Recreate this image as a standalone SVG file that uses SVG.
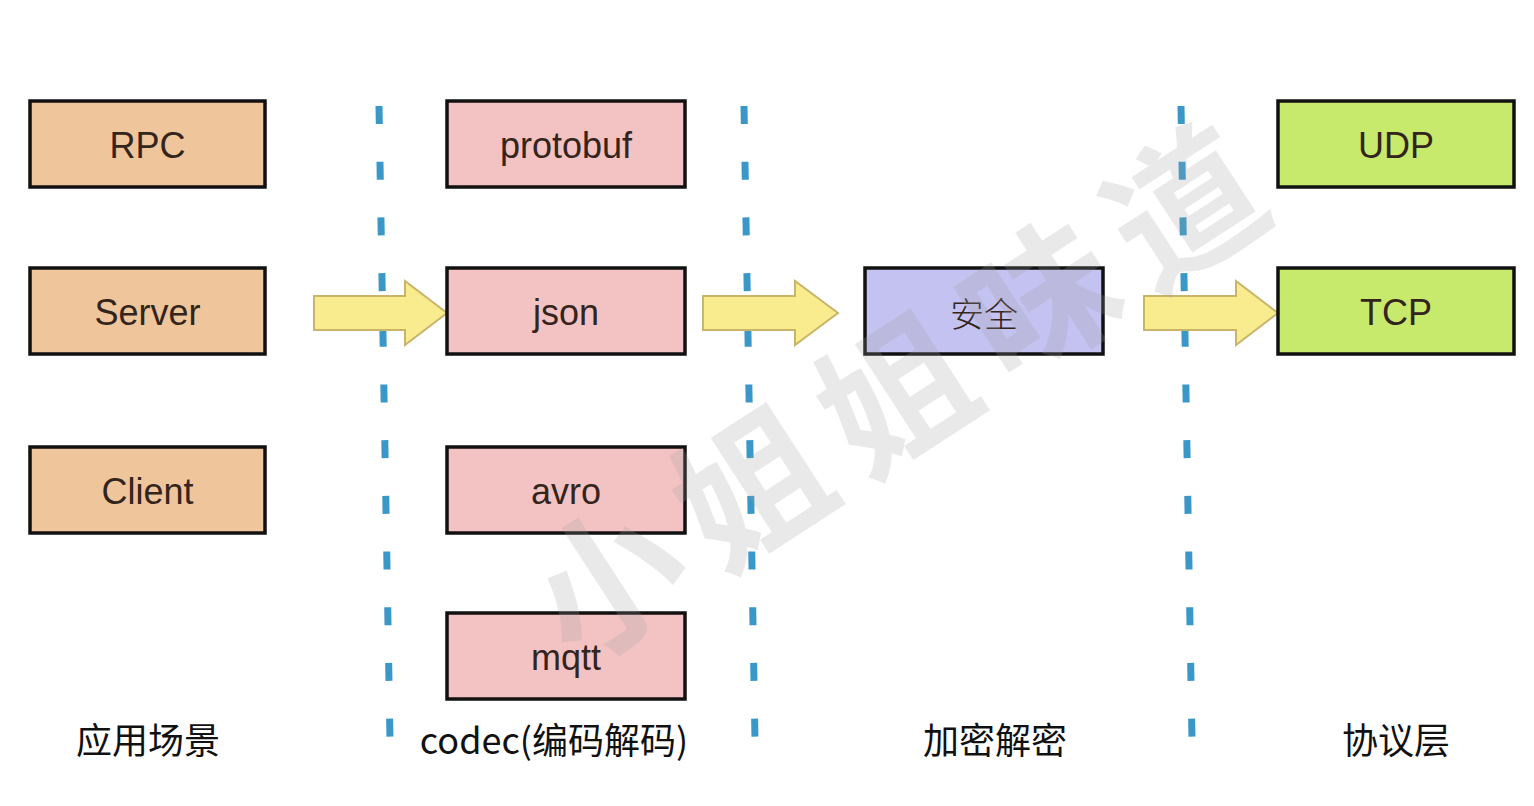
<svg xmlns="http://www.w3.org/2000/svg" width="1534" height="806" viewBox="0 0 1534 806">
<style>
.box{stroke:#111;stroke-width:3.5}
.app{fill:#EFC59B}
.codec{fill:#F3C3C3}
.sec{fill:#C4C2F0}
.proto{fill:#C8EA6C}
.t{font-family:"Liberation Sans","Noto Sans CJK SC",sans-serif;font-size:36px;fill:#33241c;text-anchor:middle;dominant-baseline:central}
.lbl{font-family:"Noto Sans CJK SC","Liberation Sans",sans-serif;font-size:36px;fill:#111;text-anchor:middle;dominant-baseline:central}
.dash{stroke:#3A98C8;stroke-width:7;stroke-dasharray:18 37.7;fill:none}
.arrow{fill:#F8EC8E;stroke:#C9B46A;stroke-width:2;stroke-linejoin:miter}
.wm{font-family:"Noto Sans CJK SC",serif;font-weight:bold;font-size:150px;letter-spacing:22px;fill:#a0a0a0;opacity:0.22;text-anchor:middle;dominant-baseline:central}
</style>
<rect width="1534" height="806" fill="#ffffff"/>
<g id="separators">
<line class="dash" x1="379" y1="106" x2="390" y2="740"/>
<line class="dash" x1="744" y1="106" x2="755" y2="740"/>
<line class="dash" x1="1181" y1="106" x2="1192" y2="740"/>
</g>
<g id="connectors">
<path class="arrow" d="M314,296 H405 V281 L447,313 L405,345 V330 H314 Z"/>
<path class="arrow" d="M703,296 H795 V281 L838,313 L795,345 V330 H703 Z"/>
<path class="arrow" d="M1144,296 H1236 V281 L1278,313 L1236,345 V330 H1144 Z"/>
</g>
<g id="RPC"><rect class="box app" x="30" y="101" width="235" height="86"/><text class="t" x="147.500" y="145">RPC</text></g>
<g id="Server"><rect class="box app" x="30" y="268" width="235" height="86"/><text class="t" x="147.500" y="312">Server</text></g>
<g id="Client"><rect class="box app" x="30" y="447" width="235" height="86"/><text class="t" x="147.500" y="491">Client</text></g>
<g id="protobuf"><rect class="box codec" x="447" y="101" width="238" height="86"/><text class="t" x="566" y="145">protobuf</text></g>
<g id="json"><rect class="box codec" x="447" y="268" width="238" height="86"/><text class="t" x="566" y="312">json</text></g>
<g id="avro"><rect class="box codec" x="447" y="447" width="238" height="86"/><text class="t" x="566" y="491">avro</text></g>
<g id="mqtt"><rect class="box codec" x="447" y="613" width="238" height="86"/><text class="t" x="566" y="657">mqtt</text></g>
<g id="security"><rect class="box sec" x="865" y="268" width="238" height="86"/><text class="t" x="984" y="312" style="font-family:'Noto Sans CJK SC',sans-serif;font-weight:300;font-size:34px">安全</text></g>
<g id="UDP"><rect class="box proto" x="1278" y="101" width="236" height="86"/><text class="t" x="1396" y="145">UDP</text></g>
<g id="TCP"><rect class="box proto" x="1278" y="268" width="236" height="86"/><text class="t" x="1396" y="312">TCP</text></g>
<g id="labels">
<text class="lbl" x="148" y="738">应用场景</text>
<text class="lbl" x="554" y="738">codec(编码解码)</text>
<text class="lbl" x="995" y="738">加密解密</text>
<text class="lbl" x="1396" y="738">协议层</text>
</g>
<g id="watermark">
<text class="wm" x="900" y="380" transform="rotate(-33 900 380)">小姐姐味道</text>
</g>
</svg>
